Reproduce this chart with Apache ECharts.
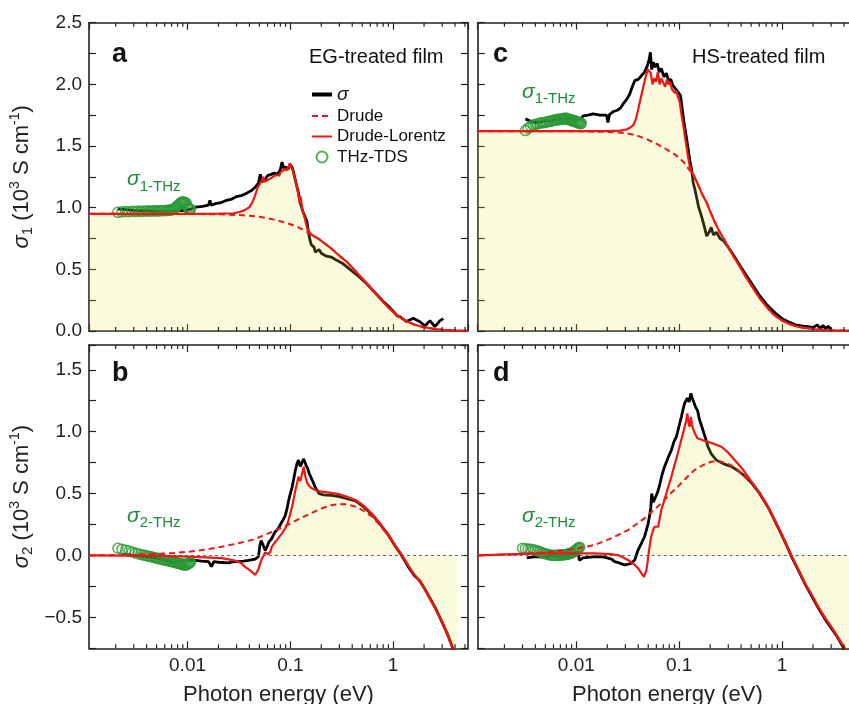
<!DOCTYPE html>
<html>
<head>
<meta charset="utf-8">
<script src="https://cdn.jsdelivr.net/npm/echarts@6/dist/echarts.min.js"></script>
<style>
  html, body { margin: 0; padding: 0; background: #fff; }
  #chart { width: 849px; height: 704px; }
</style>
</head>
<body>
<div id="chart"></div>
<script>
// ---- axis ranges and tick labels ----
const energyMin = 0.0011, energyMax = 5.35;            // eV, log scale
const energyTickLabels = ['0.01', '0.1', '1'];
const sigma1Range = [0, 2.5];
const sigma2Range = [-0.75, 1.7];
const sigma1TickLabels = ['0.0', '0.5', '1.0', '1.5', '2.0', '2.5'];
const sigma2TickLabels = ['−0.5', '0.0', '0.5', '1.0', '1.5'];

// ---- (a) EG-treated film, sigma_1 (10^3 S/cm) vs photon energy (eV) ----
const sigmaA = [[0.0021,0.99],[0.0025,0.985],[0.003,0.978],[0.004,0.975],[0.005,0.972],[0.006,0.97],[0.007,0.972],[0.008,0.975],[0.009,0.978],[0.0095,0.972],[0.0105,0.985],[0.012,1.005],[0.014,1.01],[0.016,1.02],[0.0165,1.06],[0.017,1.02],[0.019,1.035],[0.021,1.04],[0.024,1.06],[0.027,1.07],[0.03,1.09],[0.034,1.1],[0.038,1.12],[0.042,1.14],[0.046,1.17],[0.049,1.2],[0.051,1.27],[0.053,1.21],[0.056,1.22],[0.06,1.26],[0.065,1.27],[0.07,1.28],[0.075,1.27],[0.08,1.31],[0.083,1.37],[0.086,1.32],[0.09,1.33],[0.095,1.31],[0.1,1.35],[0.105,1.32],[0.11,1.25],[0.115,1.18],[0.12,1.12],[0.125,1.04],[0.13,0.99],[0.135,0.95],[0.14,0.92],[0.145,0.89],[0.15,0.8],[0.155,0.74],[0.16,0.7],[0.165,0.69],[0.17,0.68],[0.175,0.64],[0.18,0.63],[0.19,0.66],[0.2,0.63],[0.22,0.61],[0.25,0.6],[0.28,0.575],[0.32,0.55],[0.38,0.5],[0.45,0.45],[0.55,0.385],[0.65,0.32],[0.8,0.24],[0.9,0.2],[1.0,0.16],[1.1,0.12],[1.16,0.116],[1.35,0.076],[1.57,0.103],[1.82,0.076],[2.04,0.04],[2.28,0.084],[2.55,0.035],[2.86,0.084],[3.08,0.1]];
const drudeA = [[0.0011,0.95],[0.005,0.95],[0.01,0.949],[0.02,0.946],[0.03,0.941],[0.04,0.935],[0.05,0.926],[0.06,0.915],[0.07,0.903],[0.08,0.89],[0.1,0.866],[0.12,0.84],[0.14,0.812],[0.16,0.782],[0.19,0.745],[0.22,0.705],[0.26,0.657],[0.3,0.61],[0.35,0.565],[0.4,0.515],[0.46,0.46],[0.55,0.39],[0.65,0.32],[0.8,0.235],[0.9,0.19],[1.0,0.155],[1.15,0.115],[1.35,0.08],[1.6,0.053],[1.9,0.035],[2.2,0.025],[2.6,0.015],[3.1,0.009],[3.8,0.005],[4.6,0.003],[5.35,0.002]];
const dlA = [[0.0011,0.95],[0.01,0.95],[0.02,0.951],[0.028,0.955],[0.032,0.965],[0.036,0.98],[0.04,1.005],[0.0425,1.04],[0.045,1.09],[0.048,1.16],[0.051,1.2],[0.053,1.22],[0.0545,1.25],[0.056,1.21],[0.058,1.2],[0.062,1.23],[0.065,1.24],[0.069,1.255],[0.073,1.265],[0.076,1.28],[0.078,1.26],[0.081,1.29],[0.085,1.3],[0.088,1.32],[0.091,1.3],[0.095,1.32],[0.0985,1.36],[0.102,1.33],[0.106,1.3],[0.109,1.26],[0.112,1.22],[0.115,1.18],[0.118,1.14],[0.121,1.08],[0.123,1.04],[0.126,1.09],[0.129,1.02],[0.133,0.965],[0.137,0.93],[0.141,0.88],[0.145,0.84],[0.15,0.815],[0.155,0.8],[0.16,0.782],[0.19,0.745],[0.22,0.705],[0.26,0.657],[0.3,0.61],[0.35,0.565],[0.4,0.515],[0.46,0.46],[0.55,0.39],[0.65,0.32],[0.8,0.235],[0.9,0.19],[1.0,0.155],[1.15,0.115],[1.35,0.08],[1.6,0.053],[1.9,0.035],[2.2,0.025],[2.6,0.015],[3.1,0.009],[3.8,0.005],[4.6,0.003],[5.35,0.002]];
const thzA = [[0.0021,0.962],[0.0023,0.966],[0.0025,0.97],[0.0027,0.968],[0.0029,0.972],[0.0031,0.97],[0.0033,0.973],[0.0035,0.97],[0.0037,0.974],[0.0039,0.972],[0.0041,0.975],[0.0043,0.971],[0.0045,0.974],[0.0047,0.976],[0.0049,0.973],[0.0051,0.976],[0.0053,0.974],[0.0055,0.977],[0.0057,0.975],[0.0059,0.978],[0.0061,0.975],[0.0063,0.979],[0.0065,0.977],[0.0067,0.981],[0.0069,0.979],[0.0071,0.984],[0.0073,0.988],[0.0075,0.995],[0.0077,1.003],[0.0079,1.012],[0.0081,1.02],[0.0083,1.028],[0.0085,1.036],[0.0087,1.042],[0.0089,1.048],[0.0091,1.04],[0.0093,1.047],[0.0095,1.03],[0.0097,1.038],[0.0099,1.015],[0.0101,1.0],[0.0103,0.99],[0.0105,0.985],[0.0107,0.988]];

// ---- (b) EG-treated film, sigma_2 ----
const sigmaB = [[0.0023,0.01],[0.003,0.0],[0.0048,-0.02],[0.006,-0.035],[0.0075,-0.059],[0.0086,-0.04],[0.0102,-0.035],[0.012,-0.04],[0.0137,-0.045],[0.016,-0.05],[0.0171,-0.09],[0.018,-0.05],[0.02,-0.055],[0.025,-0.06],[0.028,-0.05],[0.031,-0.05],[0.035,-0.045],[0.039,-0.04],[0.0455,-0.03],[0.049,-0.01],[0.0505,0.08],[0.052,0.12],[0.054,0.09],[0.057,0.04],[0.06,0.08],[0.062,0.11],[0.066,0.137],[0.071,0.19],[0.075,0.21],[0.079,0.24],[0.084,0.28],[0.089,0.32],[0.093,0.38],[0.096,0.44],[0.1,0.5],[0.104,0.55],[0.108,0.62],[0.112,0.69],[0.116,0.74],[0.12,0.77],[0.125,0.72],[0.13,0.73],[0.135,0.78],[0.142,0.73],[0.148,0.7],[0.153,0.66],[0.165,0.6],[0.175,0.55],[0.19,0.5],[0.21,0.49],[0.25,0.485],[0.3,0.475],[0.35,0.46],[0.43,0.44],[0.52,0.39],[0.625,0.33],[0.75,0.25],[0.906,0.16],[1.05,0.075],[1.22,-0.005],[1.4,-0.09],[1.6,-0.16],[1.8,-0.2],[2.0,-0.26],[2.3,-0.35],[2.6,-0.43],[3.0,-0.54],[3.4,-0.64],[3.8,-0.75],[4.1,-0.83]];
const drudeB = [[0.0011,0.0],[0.003,0.005],[0.0048,0.012],[0.007,0.018],[0.0102,0.03],[0.015,0.048],[0.0215,0.071],[0.0312,0.098],[0.0455,0.133],[0.066,0.19],[0.08,0.22],[0.096,0.25],[0.115,0.285],[0.139,0.318],[0.17,0.352],[0.203,0.381],[0.25,0.405],[0.295,0.415],[0.35,0.413],[0.43,0.395],[0.52,0.36],[0.625,0.313],[0.75,0.24],[0.906,0.158],[1.05,0.078],[1.22,0.0],[1.53,-0.131],[1.93,-0.239],[2.41,-0.386],[3.0,-0.535],[3.77,-0.74],[4.3,-0.9]];
const dlB = [[0.0011,0.0],[0.005,-0.003],[0.0102,-0.01],[0.0215,-0.022],[0.029,-0.042],[0.033,-0.06],[0.036,-0.09],[0.039,-0.11],[0.042,-0.13],[0.0455,-0.158],[0.0473,-0.145],[0.049,-0.11],[0.051,-0.062],[0.053,-0.025],[0.055,0.0],[0.057,0.025],[0.059,0.03],[0.061,0.01],[0.062,0.0],[0.064,0.03],[0.066,0.071],[0.07,0.1],[0.074,0.124],[0.078,0.15],[0.083,0.178],[0.089,0.218],[0.093,0.25],[0.096,0.286],[0.1,0.34],[0.104,0.394],[0.108,0.46],[0.112,0.529],[0.116,0.58],[0.12,0.636],[0.125,0.6],[0.13,0.66],[0.135,0.717],[0.14,0.636],[0.145,0.59],[0.15,0.569],[0.16,0.545],[0.175,0.529],[0.203,0.515],[0.25,0.505],[0.295,0.496],[0.35,0.475],[0.43,0.448],[0.52,0.4],[0.625,0.335],[0.75,0.255],[0.906,0.165],[1.05,0.08],[1.22,0.0],[1.53,-0.131],[1.93,-0.239],[2.41,-0.386],[3.0,-0.535],[3.77,-0.74],[4.3,-0.9]];
const thzB = [[0.0021,0.058],[0.0023,0.05],[0.0025,0.043],[0.0027,0.035],[0.0029,0.028],[0.0031,0.02],[0.0033,0.014],[0.0035,0.008],[0.0037,0.004],[0.0039,0.0],[0.0041,-0.005],[0.0043,-0.008],[0.0045,-0.012],[0.0047,-0.016],[0.0049,-0.02],[0.0051,-0.023],[0.0053,-0.026],[0.0055,-0.03],[0.0057,-0.033],[0.0059,-0.036],[0.0061,-0.038],[0.0063,-0.041],[0.0065,-0.043],[0.0067,-0.046],[0.0069,-0.048],[0.0071,-0.05],[0.0073,-0.053],[0.0075,-0.055],[0.0077,-0.058],[0.0079,-0.06],[0.0081,-0.062],[0.0083,-0.065],[0.0085,-0.067],[0.0087,-0.07],[0.0089,-0.072],[0.0091,-0.075],[0.0093,-0.078],[0.0095,-0.074],[0.0097,-0.079],[0.0099,-0.072],[0.0101,-0.068],[0.0103,-0.062],[0.0105,-0.058],[0.0107,-0.055]];

// ---- (c) HS-treated film, sigma_1 ----
const sigmaC = [[0.0032,1.72],[0.0036,1.70],[0.004,1.69],[0.0045,1.695],[0.005,1.705],[0.0055,1.7],[0.006,1.71],[0.007,1.72],[0.008,1.72],[0.009,1.73],[0.01,1.725],[0.011,1.72],[0.0117,1.745],[0.013,1.75],[0.0146,1.76],[0.017,1.75],[0.0197,1.75],[0.0203,1.69],[0.021,1.755],[0.023,1.78],[0.025,1.79],[0.027,1.81],[0.029,1.85],[0.031,1.88],[0.033,1.92],[0.035,1.98],[0.037,2.03],[0.04,2.04],[0.043,2.07],[0.046,2.1],[0.049,2.15],[0.051,2.2],[0.0525,2.26],[0.054,2.12],[0.056,2.18],[0.058,2.14],[0.061,2.17],[0.064,2.1],[0.067,2.13],[0.071,2.06],[0.075,2.09],[0.079,2.03],[0.083,2.04],[0.087,1.99],[0.091,1.97],[0.095,1.98],[0.099,1.93],[0.103,1.91],[0.107,1.8],[0.111,1.7],[0.116,1.6],[0.121,1.5],[0.127,1.38],[0.132,1.31],[0.137,1.2],[0.142,1.15],[0.147,1.09],[0.155,1.0],[0.165,0.93],[0.175,0.85],[0.185,0.77],[0.195,0.8],[0.205,0.84],[0.215,0.78],[0.23,0.8],[0.25,0.75],[0.27,0.73],[0.3,0.68],[0.34,0.61],[0.39,0.53],[0.45,0.45],[0.52,0.37],[0.6,0.29],[0.7,0.22],[0.8,0.17],[0.9,0.13],[1.0,0.1],[1.15,0.075],[1.35,0.05],[1.6,0.04],[1.8,0.035],[2.0,0.028],[2.2,0.05],[2.35,0.02],[2.5,0.045],[2.65,0.018],[2.8,0.04],[3.0,0.012]];
const drudeC = [[0.0011,1.62],[0.01,1.619],[0.0197,1.615],[0.025,1.61],[0.031,1.603],[0.036,1.592],[0.0416,1.576],[0.05,1.55],[0.0605,1.517],[0.073,1.48],[0.0875,1.44],[0.1,1.405],[0.113,1.36],[0.127,1.3],[0.137,1.27],[0.15,1.2],[0.165,1.12],[0.185,1.04],[0.2,0.97],[0.22,0.89],[0.245,0.81],[0.27,0.75],[0.3,0.68],[0.34,0.6],[0.39,0.52],[0.45,0.43],[0.52,0.35],[0.6,0.27],[0.7,0.2],[0.8,0.145],[0.9,0.11],[1.0,0.085],[1.15,0.06],[1.35,0.04],[1.6,0.027],[2.0,0.016],[2.5,0.009],[3.2,0.005],[4.2,0.003],[5.4,0.002]];
const dlC = [[0.0011,1.62],[0.02,1.62],[0.027,1.625],[0.031,1.636],[0.0335,1.65],[0.0358,1.67],[0.038,1.72],[0.04,1.8],[0.042,1.88],[0.0448,1.98],[0.0475,2.07],[0.0495,2.12],[0.051,2.13],[0.053,2.09],[0.055,2.0],[0.057,2.05],[0.0595,2.02],[0.062,2.1],[0.0645,2.0],[0.067,2.05],[0.07,2.06],[0.073,1.98],[0.076,2.04],[0.079,2.0],[0.082,2.02],[0.085,1.96],[0.088,1.97],[0.091,1.93],[0.094,1.95],[0.097,1.9],[0.101,1.86],[0.105,1.76],[0.11,1.66],[0.114,1.57],[0.118,1.49],[0.122,1.41],[0.127,1.33],[0.132,1.29],[0.137,1.27],[0.15,1.2],[0.165,1.12],[0.185,1.04],[0.2,0.97],[0.22,0.89],[0.245,0.81],[0.27,0.75],[0.3,0.68],[0.34,0.6],[0.39,0.52],[0.45,0.43],[0.52,0.35],[0.6,0.27],[0.7,0.2],[0.8,0.145],[0.9,0.11],[1.0,0.085],[1.15,0.06],[1.35,0.04],[1.6,0.027],[2.0,0.016],[2.5,0.009],[3.2,0.005],[4.2,0.003],[5.4,0.002]];
const thzC = [[0.0032,1.625],[0.0034,1.645],[0.0036,1.66],[0.0038,1.67],[0.004,1.675],[0.0042,1.68],[0.0044,1.685],[0.0046,1.69],[0.0048,1.688],[0.005,1.692],[0.0052,1.695],[0.0054,1.7],[0.0056,1.698],[0.0058,1.705],[0.006,1.708],[0.0062,1.712],[0.0064,1.715],[0.0066,1.71],[0.0068,1.72],[0.007,1.715],[0.0072,1.722],[0.0074,1.718],[0.0076,1.725],[0.0078,1.72],[0.008,1.727],[0.0082,1.715],[0.0084,1.72],[0.0086,1.71],[0.0088,1.715],[0.009,1.705],[0.0092,1.71],[0.0094,1.7],[0.0096,1.705],[0.0098,1.695],[0.01,1.7],[0.0102,1.69],[0.0104,1.695],[0.0106,1.685],[0.0108,1.69],[0.011,1.68],[0.0112,1.685]];

// ---- (d) HS-treated film, sigma_2 ----
const sigmaD = [[0.0033,-0.02],[0.004,-0.01],[0.005,-0.015],[0.006,0.0],[0.007,-0.01],[0.008,0.0],[0.009,0.005],[0.0098,0.01],[0.0104,0.03],[0.0107,-0.04],[0.0116,-0.02],[0.013,-0.015],[0.015,-0.01],[0.018,-0.012],[0.02,-0.02],[0.022,-0.03],[0.0236,-0.05],[0.026,-0.06],[0.0295,-0.077],[0.032,-0.07],[0.034,-0.064],[0.037,-0.037],[0.0398,0.044],[0.043,0.1],[0.046,0.151],[0.05,0.26],[0.052,0.34],[0.053,0.39],[0.054,0.5],[0.056,0.43],[0.058,0.42],[0.061,0.5],[0.064,0.555],[0.068,0.65],[0.072,0.717],[0.078,0.79],[0.084,0.852],[0.089,0.92],[0.094,0.96],[0.1,1.05],[0.105,1.12],[0.109,1.18],[0.113,1.23],[0.117,1.22],[0.12,1.27],[0.125,1.24],[0.13,1.31],[0.134,1.27],[0.137,1.25],[0.144,1.2],[0.151,1.17],[0.157,1.1],[0.163,1.06],[0.169,1.02],[0.175,0.98],[0.183,0.93],[0.19,0.88],[0.205,0.82],[0.23,0.77],[0.27,0.74],[0.32,0.72],[0.38,0.68],[0.435,0.64],[0.5,0.59],[0.6,0.505],[0.73,0.39],[0.85,0.28],[0.98,0.175],[1.1,0.085],[1.23,-0.005],[1.45,-0.125],[1.67,-0.23],[1.95,-0.33],[2.24,-0.42],[2.6,-0.51],[3.0,-0.585],[3.4,-0.65],[3.8,-0.72],[4.4,-0.81]];
const drudeD = [[0.0011,0.0],[0.003,0.012],[0.005,0.025],[0.0075,0.04],[0.0104,0.058],[0.015,0.084],[0.0219,0.138],[0.0318,0.205],[0.046,0.3],[0.0669,0.421],[0.08,0.49],[0.097,0.555],[0.115,0.62],[0.141,0.69],[0.17,0.73],[0.205,0.757],[0.235,0.762],[0.257,0.757],[0.3,0.74],[0.346,0.712],[0.39,0.675],[0.435,0.64],[0.5,0.6],[0.6,0.51],[0.73,0.394],[0.85,0.285],[0.98,0.179],[1.1,0.09],[1.23,0.0],[1.45,-0.12],[1.67,-0.225],[1.95,-0.32],[2.24,-0.414],[2.6,-0.5],[3.0,-0.575],[3.4,-0.645],[3.8,-0.71],[4.4,-0.8],[5.0,-0.9]];
const dlD = [[0.0011,0.0],[0.003,0.012],[0.005,0.016],[0.01,0.017],[0.015,0.016],[0.022,0.01],[0.026,0.0],[0.0295,-0.023],[0.033,-0.045],[0.037,-0.077],[0.04,-0.105],[0.043,-0.144],[0.0455,-0.172],[0.047,-0.16],[0.048,-0.12],[0.049,-0.07],[0.05,-0.01],[0.0515,0.07],[0.0534,0.151],[0.0555,0.2],[0.0577,0.232],[0.06,0.228],[0.0623,0.232],[0.064,0.28],[0.067,0.367],[0.071,0.435],[0.075,0.502],[0.08,0.58],[0.084,0.636],[0.09,0.73],[0.097,0.825],[0.103,0.91],[0.109,0.987],[0.113,1.04],[0.117,1.09],[0.12,1.148],[0.124,1.06],[0.127,1.04],[0.13,1.12],[0.133,1.06],[0.137,1.02],[0.143,0.98],[0.151,0.946],[0.17,0.93],[0.19,0.919],[0.22,0.9],[0.257,0.878],[0.3,0.83],[0.346,0.771],[0.42,0.69],[0.5,0.6],[0.6,0.51],[0.73,0.394],[0.85,0.285],[0.98,0.179],[1.1,0.09],[1.23,0.0],[1.45,-0.12],[1.67,-0.225],[1.95,-0.32],[2.24,-0.414],[2.6,-0.5],[3.0,-0.575],[3.4,-0.645],[3.8,-0.71],[4.4,-0.8],[5.0,-0.9]];
const thzD = [[0.003,0.058],[0.0032,0.055],[0.0034,0.052],[0.0036,0.05],[0.0038,0.046],[0.004,0.042],[0.0042,0.037],[0.0044,0.03],[0.0046,0.024],[0.0048,0.018],[0.005,0.013],[0.0052,0.01],[0.0054,0.006],[0.0056,0.004],[0.0058,0.002],[0.006,0.0],[0.0062,0.002],[0.0064,0.0],[0.0066,0.003],[0.0068,0.001],[0.007,0.004],[0.0072,0.003],[0.0074,0.006],[0.0076,0.005],[0.0078,0.008],[0.008,0.007],[0.0082,0.01],[0.0084,0.012],[0.0086,0.015],[0.0088,0.017],[0.009,0.02],[0.0092,0.024],[0.0094,0.028],[0.0096,0.033],[0.0098,0.038],[0.01,0.045],[0.0102,0.052],[0.0104,0.058],[0.0106,0.063],[0.0108,0.066]];

// ---- styling ----
const FONT = '"Liberation Sans", Arial, Helvetica, sans-serif';
const INK = '#222';
const RED = '#f01616';
const GREEN = '#2a9a34';
const LABEL_GREEN = '#1f8a3c';
const FILL = 'rgba(246, 236, 72, 0.27)';

// minor ticks of the log energy axis (2..9 in each decade)
const minorEnergyTicks = [];
for (let d = -3; d <= 0; d++) {
  for (let k = 2; k <= 9; k++) {
    const e = k * Math.pow(10, d);
    if (e > energyMin && e < energyMax) minorEnergyTicks.push(e);
  }
}

function energyLabel(v) {
  for (const s of energyTickLabels) if (Math.abs(v / Number(s) - 1) < 1e-6) return s;
  return '';
}
function makeYLabel(labels) {
  return function (v) {
    for (const s of labels) if (Math.abs(Number(s.replace('−', '-')) - v) < 1e-6) return s;
    return '';
  };
}

const gridRects = [
  { left: 89,    top: 22.7, width: 379,   height: 308.3 },   // a
  { left: 89,    top: 345,  width: 379,   height: 303.3 },   // b
  { left: 477.7, top: 22.7, width: 379.3, height: 308.3 },   // c
  { left: 477.7, top: 345,  width: 379.3, height: 303.3 }    // d
];

const axisLineStyle = { show: true, onZero: false, lineStyle: { color: INK, width: 1.6 } };
const axisTickStyle = { show: true, inside: true, length: 7, lineStyle: { color: INK, width: 1.2 } };

const yNameRich = {
  i:   { fontFamily: FONT, fontSize: 22, fontStyle: 'italic', color: INK },
  n:   { fontFamily: FONT, fontSize: 22, color: INK },
  sub: { fontFamily: FONT, fontSize: 15, color: INK, padding: [12, 0, 0, 0] },
  sup: { fontFamily: FONT, fontSize: 14, color: INK, padding: [0, 0, 12, 0] }
};

const xAxes = [], yAxes = [];
gridRects.forEach((g, i) => {
  const lower = i % 2 === 1;       // b and d: sigma_2 panels with energy labels
  const leftCol = i < 2;           // a and b: y labels shown
  const xCommon = {
    type: 'log', logBase: 10, min: energyMin, max: energyMax, gridIndex: i,
    axisLine: axisLineStyle, axisTick: axisTickStyle,
    splitLine: { show: false }, minorTick: { show: false }, minorSplitLine: { show: false }
  };
  xAxes.push(Object.assign({}, xCommon, {
    position: 'bottom',
    axisLabel: { show: lower, margin: 8, fontSize: 19, fontFamily: FONT, color: INK,
                 formatter: energyLabel, showMinLabel: false, showMaxLabel: false, hideOverlap: false },
    name: lower ? 'Photon energy (eV)' : '', nameLocation: 'middle', nameGap: 36,
    nameTextStyle: { fontSize: 22, fontFamily: FONT, color: INK }
  }));
  xAxes.push(Object.assign({}, xCommon, { position: 'top', axisLabel: { show: false } }));

  const range = lower ? sigma2Range : sigma1Range;
  const yCommon = {
    type: 'value', min: range[0], max: range[1], interval: 0.25, gridIndex: i,
    axisLine: axisLineStyle, axisTick: axisTickStyle, splitLine: { show: false }
  };
  yAxes.push(Object.assign({}, yCommon, {
    position: 'left',
    axisLabel: { show: leftCol, margin: 7, fontSize: 19, fontFamily: FONT, color: INK,
                 formatter: makeYLabel(lower ? sigma2TickLabels : sigma1TickLabels), hideOverlap: false },
    name: leftCol ? ('{i|σ}{sub|' + (lower ? '2' : '1') + '}{n| (10}{sup|3}{n| S cm}{sup|-1}{n|)}') : '',
    nameLocation: 'middle', nameGap: 54, nameRotate: 90,
    nameTextStyle: { fontSize: 22, fontFamily: FONT, color: INK, rich: yNameRich }
  }));
  yAxes.push(Object.assign({}, yCommon, { position: 'right', axisLabel: { show: false } }));
});

const panels = [
  { sigma: sigmaA, drude: drudeA, dl: dlA, thz: thzA, fillFrom: 0,     zero: false },
  { sigma: sigmaB, drude: drudeB, dl: dlB, thz: thzB, fillFrom: 0.055, zero: true  },
  { sigma: sigmaC, drude: drudeC, dl: dlC, thz: thzC, fillFrom: 0,     zero: false },
  { sigma: sigmaD, drude: drudeD, dl: dlD, thz: thzD, fillFrom: 0.05,  zero: true  }
];

const series = [];
panels.forEach((p, i) => {
  const ax = { xAxisIndex: 2 * i, yAxisIndex: 2 * i };
  const range = i % 2 === 1 ? sigma2Range : sigma1Range;
  series.push(Object.assign({}, ax, {
    type: 'line', name: 'σ', data: p.sigma, symbol: 'none', showSymbol: false, z: 2,
    lineStyle: { color: '#000', width: 2.8 }, itemStyle: { color: '#000' }
  }));
  series.push(Object.assign({}, ax, {
    type: 'line', name: 'fill', data: p.dl.filter(d => d[0] >= p.fillFrom), symbol: 'none', z: 3, silent: true,
    lineStyle: { width: 0, opacity: 0 }, areaStyle: { color: FILL, origin: 'auto' }
  }));
  series.push(Object.assign({}, ax, {
    type: 'scatter', name: 'THz-TDS', data: p.thz, symbol: 'circle', symbolSize: 10, z: 4,
    itemStyle: { color: 'rgba(0,0,0,0)', borderColor: GREEN, borderWidth: 1.5 }
  }));
  const drude = Object.assign({}, ax, {
    type: 'line', name: 'Drude', data: p.drude, symbol: 'none', showSymbol: false, z: 5,
    lineStyle: { color: RED, width: 2, type: [6, 4] }, itemStyle: { color: RED }
  });
  if (p.zero) {
    drude.markLine = {
      silent: true, symbol: 'none', animation: false, label: { show: false },
      lineStyle: { color: '#666', width: 1, type: [3, 3] },
      data: [{ yAxis: 0 }]
    };
  }
  series.push(drude);
  series.push(Object.assign({}, ax, {
    type: 'line', name: 'Drude-Lorentz', data: p.dl, symbol: 'none', showSymbol: false, z: 6,
    lineStyle: { color: RED, width: 2.2 }, itemStyle: { color: RED }
  }));
  series.push(Object.assign({}, ax, {
    type: 'custom', name: 'minor ticks', silent: true, z: 7,
    data: minorEnergyTicks.map(e => [e, range[0]]),
    renderItem: function (params, api) {
      const e = api.value(0);
      const b = api.coord([e, range[0]]);
      const t = api.coord([e, range[1]]);
      const st = { stroke: INK, lineWidth: 1.2 };
      return { type: 'group', children: [
        { type: 'line', shape: { x1: b[0], y1: b[1], x2: b[0], y2: b[1] - 4 }, style: st },
        { type: 'line', shape: { x1: t[0], y1: t[1], x2: t[0], y2: t[1] + 4 }, style: st }
      ] };
    }
  }));
});

function plainText(x, y, text, font) {
  return { type: 'text', x: x, y: y, silent: true,
           style: { text: text, font: font, fill: '#111', align: 'left', verticalAlign: 'middle' } };
}
function thzLabel(x, y, idx) {
  return { type: 'text', x: x, y: y, silent: true,
    style: {
      text: '{s|σ}{b|' + idx + '-THz}', align: 'left', verticalAlign: 'middle', fill: LABEL_GREEN,
      rich: {
        s: { fontFamily: FONT, fontSize: 21, fontStyle: 'italic', fill: LABEL_GREEN },
        b: { fontFamily: FONT, fontSize: 15, fill: LABEL_GREEN, padding: [14, 0, 0, 0] }
      }
    } };
}

const chart = echarts.init(document.getElementById('chart'), null, { renderer: 'canvas' });
chart.setOption({
  animation: false,
  backgroundColor: '#fff',
  grid: gridRects.map(g => Object.assign({ containLabel: false, outerBoundsMode: 'none' }, g)),
  xAxis: xAxes,
  yAxis: yAxes,
  legend: {
    left: 310, top: 85, orient: 'vertical', itemWidth: 20, itemHeight: 11, itemGap: 3.5,
    selectedMode: false, padding: 0,
    data: [
      { name: 'σ', itemStyle: { opacity: 0 }, lineStyle: { width: 4 } },
      { name: 'Drude', itemStyle: { opacity: 0 } },
      { name: 'Drude-Lorentz', itemStyle: { opacity: 0 } },
      { name: 'THz-TDS' }
    ],
    formatter: n => (n === 'σ' ? '{i|σ}' : n),
    textStyle: { fontSize: 17, fontFamily: FONT, color: '#111',
                 rich: { i: { fontStyle: 'italic', fontSize: 19, fontFamily: FONT, color: '#111' } } }
  },
  graphic: [
    plainText(112, 54.6, 'a', 'bold 27px ' + FONT),
    plainText(112, 374, 'b', 'bold 27px ' + FONT),
    plainText(493, 54.6, 'c', 'bold 27px ' + FONT),
    plainText(493, 374, 'd', 'bold 27px ' + FONT),
    plainText(309, 57, 'EG-treated film', '20px ' + FONT),
    plainText(692, 57, 'HS-treated film', '20px ' + FONT),
    thzLabel(127, 179.4, '1'),
    thzLabel(127, 516, '2'),
    thzLabel(522, 91.7, '1'),
    thzLabel(522, 516, '2')
  ],
  series: series
});
</script>
</body>
</html>
